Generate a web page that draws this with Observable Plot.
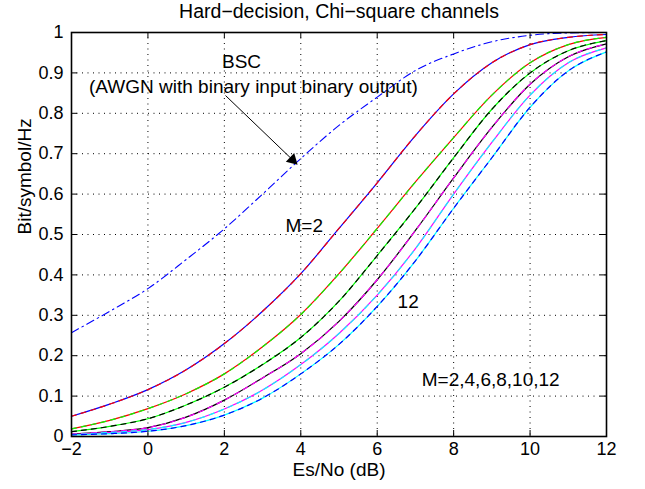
<!DOCTYPE html>
<html><head><meta charset="utf-8">
<script src="https://cdn.jsdelivr.net/npm/d3@7"></script>
<script src="https://cdn.jsdelivr.net/npm/@observablehq/plot@0.6"></script>
<style>body{margin:0;background:#fff} svg{display:block}</style>
</head><body><div id="chart"></div>
<script>
// ---- data ----
const esno = [-2, -1, 0, 1, 2, 3, 4, 5, 6, 7, 8, 9, 10, 11, 12];
const bsc  = [0.257, 0.310, 0.366, 0.438, 0.514, 0.600, 0.688, 0.770, 0.840, 0.906, 0.947, 0.977, 0.993, 0.999, 1.000];
const m2   = [0.050, 0.080, 0.116, 0.165, 0.230, 0.310, 0.403, 0.515, 0.628, 0.745, 0.848, 0.925, 0.970, 0.988, 0.995];
const m4   = [0.019, 0.040, 0.069, 0.106, 0.155, 0.222, 0.302, 0.403, 0.515, 0.630, 0.740, 0.845, 0.925, 0.970, 0.988];
const m6   = [0.012, 0.025, 0.044, 0.078, 0.122, 0.178, 0.245, 0.335, 0.448, 0.565, 0.690, 0.810, 0.900, 0.955, 0.980];
const m8   = [0.006, 0.012, 0.022, 0.048, 0.090, 0.145, 0.205, 0.285, 0.388, 0.510, 0.640, 0.765, 0.872, 0.940, 0.972];
const m10  = [0.005, 0.010, 0.017, 0.035, 0.068, 0.115, 0.178, 0.255, 0.350, 0.465, 0.600, 0.728, 0.845, 0.925, 0.962];
const m12  = [0.004, 0.007, 0.013, 0.027, 0.053, 0.095, 0.155, 0.228, 0.322, 0.435, 0.565, 0.690, 0.815, 0.905, 0.952];
const seriesNames = ["M=2", "M=4", "M=6", "M=8", "M=10", "M=12"];
const seriesValues = [m2, m4, m6, m8, m10, m12];
const solidColors = ["#0000ff", "#ff0000", "#00ff00", "#000000", "#ff00ff", "#00ffff"];
const dashColors  = ["#ff0000", "#00ff00", "#000000", "#ff00ff", "#00ffff", "#0000ff"];
const xTicks = [-2, 0, 2, 4, 6, 8, 10, 12];
const yTicks = [0, 0.1, 0.2, 0.3, 0.4, 0.5, 0.6, 0.7, 0.8, 0.9, 1];
const titleText = "Hard\u2212decision, Chi\u2212square channels";
const xLabel = "Es/No (dB)";
const yLabel = "Bit/symbol/Hz";
const notes = [
  {x: 2.45, y: 0.928, text: "BSC"},
  {x: 2.76, y: 0.866, text: "(AWGN with binary input binary output)"},
  {x: 4.09, y: 0.522, text: "M=2"},
  {x: 6.81, y: 0.332, text: "12"},
  {x: 8.97, y: 0.141, text: "M=2,4,6,8,10,12"}
];
const arrowFrom = [2.03, 0.844];
const arrowTo = [3.86, 0.678];

// ---- build tables ----
const bscRows = esno.map((x, i) => ({x, y: bsc[i]}));
const mRows = seriesNames.flatMap((name, s) =>
  esno.map((x, i) => ({x, y: seriesValues[s][i], series: name, solid: solidColors[s], dash: dashColors[s]})));
const arrows = [{from: arrowFrom, to: arrowTo}];

const W = 645, H = 489, ML = 71, MR = 39, MT = 32, MB = 53;
const FW = W - ML - MR, FH = H - MT - MB;
const font = "'Liberation Sans', Arial, Helvetica, sans-serif";
const fmtX = d => d < 0 ? "\u2212" + Math.abs(d) : String(d);
// arrow head direction (screen angle, degrees clockwise from up)
const headRotate = 133.7, headBack = 4;
const ang = (headRotate - 90) * Math.PI / 180;

const chart = Plot.plot({
  width: W, height: H,
  marginLeft: ML, marginRight: MR, marginTop: MT, marginBottom: MB,
  style: {fontFamily: font, background: "#fff", color: "#000"},
  x: {domain: [-2, 12]},
  y: {domain: [0, 1]},
  color: {type: "identity"},
  marks: [
    Plot.ruleX(xTicks, {x: d => d, stroke: "#000", strokeWidth: 1, strokeDasharray: "1,4.5"}),
    Plot.ruleY(yTicks, {y: d => d, stroke: "#000", strokeWidth: 1, strokeDasharray: "1,4.5"}),
    Plot.line(bscRows, {x: "x", y: "y", stroke: "#0000ff", strokeWidth: 1.1, strokeDasharray: "8,4,1.5,4", curve: "monotone-x"}),
    Plot.line(mRows, {x: "x", y: "y", z: "series", stroke: "solid", strokeWidth: 1.2, curve: "monotone-x"}),
    Plot.line(mRows, {x: "x", y: "y", z: "series", stroke: "dash", strokeWidth: 1.2, strokeDasharray: "5,5", curve: "monotone-x"}),
    Plot.link(arrows, {x1: d => d.from[0], y1: d => d.from[1], x2: d => d.to[0], y2: d => d.to[1], stroke: "#000", strokeWidth: 1}),
    Plot.dot(arrows, {x: d => d.to[0], y: d => d.to[1], symbol: "triangle", r: 4.5, fill: "#000", stroke: "none", rotate: headRotate,
      dx: -Math.cos(ang) * headBack, dy: -Math.sin(ang) * headBack}),
    Plot.text(notes, {x: "x", y: "y", text: "text", fontSize: 19, fill: "#000"}),
    // inward ticks
    Plot.tickX(xTicks, {x: d => d, insetTop: FH - 6, stroke: "#000"}),
    Plot.tickX(xTicks, {x: d => d, insetBottom: FH - 6, stroke: "#000"}),
    Plot.tickY(yTicks, {y: d => d, insetRight: FW - 6, stroke: "#000"}),
    Plot.tickY(yTicks, {y: d => d, insetLeft: FW - 6, stroke: "#000"}),
    Plot.frame({stroke: "#000", strokeWidth: 1.6}),
    Plot.axisX(xTicks, {tickSize: 0, tickPadding: 6, tickFormat: fmtX, fontSize: 18, label: null}),
    Plot.axisY(yTicks, {tickSize: 0, tickPadding: 8, tickFormat: d => String(d), fontSize: 18, label: null}),
    Plot.text([xLabel], {frameAnchor: "bottom", lineAnchor: "middle", dy: 33, fontSize: 19, fill: "#000"}),
    Plot.text([yLabel], {frameAnchor: "left", dx: -47, rotate: -90, fontSize: 19, fill: "#000"}),
    Plot.text([titleText], {frameAnchor: "top", lineAnchor: "middle", dy: -21, fontSize: 19.5, fill: "#000"})
  ]
});
document.getElementById("chart").append(chart);
</script>
</body></html>
